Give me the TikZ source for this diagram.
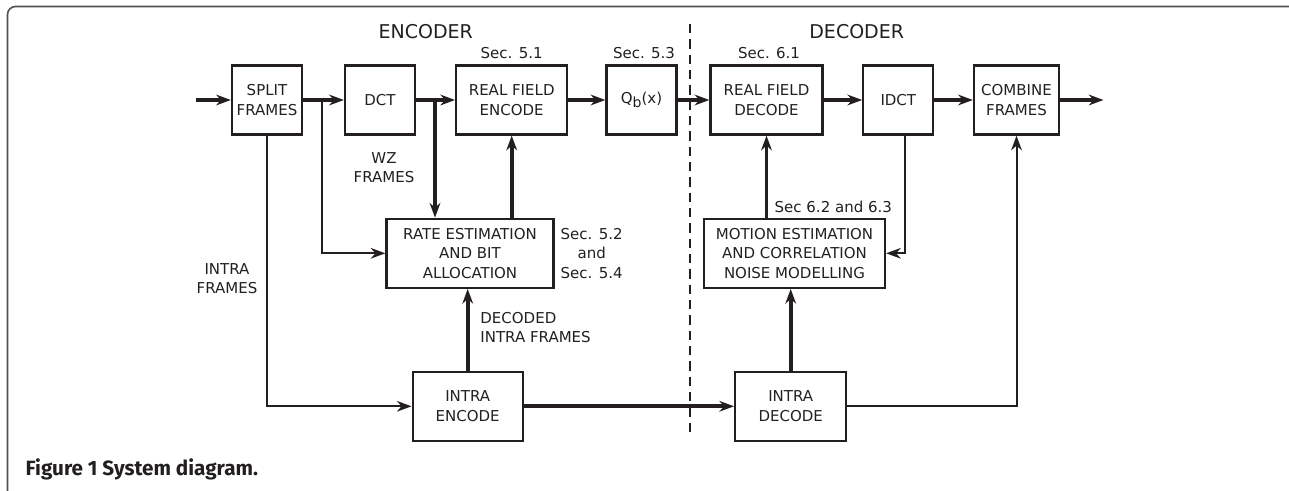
\documentclass[tikz,border=0pt]{standalone}
\usepackage{fontspec}
\setmainfont{DejaVu Sans}
\newfontfamily\capfont{Fira Sans}
\usetikzlibrary{arrows.meta}
\definecolor{ink}{HTML}{231F20}
\definecolor{framegray}{HTML}{505050}

\begin{document}
\begin{tikzpicture}[
    x=0.75pt, y=-0.75pt,
    every node/.style={align=center, text=ink, font=\fontsize{11.25}{14.5}\selectfont},
    blk/.style={draw=ink, line width=1.7pt, inner sep=0pt, minimum height=51.75pt},
    thk/.style={draw=ink, line width=2.7pt, ->},
    thn/.style={draw=ink, line width=1.5pt, ->},
    title/.style={font=\fontsize{14.25}{17}\selectfont},
    >={Stealth[length=11pt, width=8pt, inset=3.5pt]}
]
    \useasboundingbox (0,0) rectangle (1289,491);

    % outer frame and encoder/decoder split
    \draw[framegray, line width=1.2pt, rounded corners=6pt] (7.5,491) -- (7.5,6.5) -- (1289,6.5);
    \draw[ink, line width=1.4pt, dash pattern=on 7pt off 4.5pt] (690,24) -- (690,435);

    \node[title] (enc) at (425.7,31.7) {ENCODER};
    \node[title] (dec) at (856.7,31.7) {DECODER};

    % top row
    \node[blk, minimum width=52.5pt]  (split)   at (267,100)    {SPLIT\\FRAMES};
    \node[blk, minimum width=52.5pt]  (dct)     at (380,100)    {DCT};
    \node[blk, minimum width=83.25pt] (rfenc)   at (511.7,100)  {REAL FIELD\\ENCODE};
    \node[blk, minimum width=52.5pt]  (quant)   at (641.5,100)  {Q\raisebox{-3.5pt}{\fontsize{10.5}{10.5}\selectfont b}(x)};
    \node[blk, minimum width=84pt]    (rfdec)   at (766.5,100)  {REAL FIELD\\DECODE};
    \node[blk, minimum width=52.5pt]  (idct)    at (898.3,100)  {IDCT};
    \node[blk, minimum width=63.75pt] (combine) at (1016.5,100) {COMBINE\\FRAMES};

    % middle and bottom rows
    \node[blk, minimum width=125.25pt] (rate)     at (470,253.3)   {RATE ESTIMATION\\AND BIT\\ALLOCATION};
    \node[blk, minimum width=135.75pt] (motion)   at (794.5,253.3) {MOTION ESTIMATION\\AND CORRELATION\\NOISE MODELLING};
    \node[blk, minimum width=82.5pt]   (intraenc) at (467.7,406.3) {INTRA\\ENCODE};
    \node[blk, minimum width=83.25pt]  (intradec) at (790.7,406.3) {INTRA\\DECODE};

    \coordinate (in)  at (196,100);
    \coordinate (out) at (1103.5,100);
    \coordinate (br1) at (321.7,100);
    \coordinate (br2) at (435,100);

    % main path
    \draw[thk] (in) -- (split);
    \draw[thk] (split) -- (dct);
    \draw[thk] (dct) -- (rfenc);
    \draw[thk] (rfenc) -- (quant);
    \draw[thk] (quant) -- (rfdec);
    \draw[thk] (rfdec) -- (idct);
    \draw[thk] (idct) -- (combine);
    \draw[thk] (combine) -- (out);

    % encoder side
    \draw[thn] (br1) |- (rate.west);
    \draw[thk] (br2) -- (br2 |- rate.north);
    \draw[thk] (rfenc.south |- rate.north) -- (rfenc.south);
    \draw[thn] (split.south) |- (intraenc.west);
    \draw[thk] (intraenc.north) -- (intraenc.north |- rate.south);
    \draw[thk] (intraenc) -- (intradec);

    % decoder side
    \draw[thk] (intradec.north) -- (intradec.north |- motion.south);
    \draw[thk] (rfdec.south |- motion.north) -- (rfdec.south);
    \draw[thn] ([xshift=5pt]idct.south) |- (motion.east);
    \draw[thn] (intradec.east) -| (combine.south);

    % labels
    \node (s51) at (511.7,53) {Sec. 5.1};
    \node (s53) at (644,53) {Sec. 5.3};
    \node (s61) at (769,53) {Sec. 6.1};
    \node (wz) at (384,167.5) {WZ\\FRAMES};
    \node (s52) at (591.7,253.5) {Sec. 5.2\\and\\Sec. 5.4};
    \node[anchor=east] (intrafr) at (262,278.5) {INTRA\\FRAMES};
    \node[anchor=west, align=left] (decfr) at (475.7,327.8) {DECODED\\INTRA FRAMES};
    \node (s62) at (833.3,206.7) {Sec 6.2 and 6.3};

    \node[anchor=west, font=\capfont\fontsize{15.5}{18}\selectfont\bfseries] (cap) at (21,469) {Figure 1 System diagram.};
\end{tikzpicture}
\end{document}
